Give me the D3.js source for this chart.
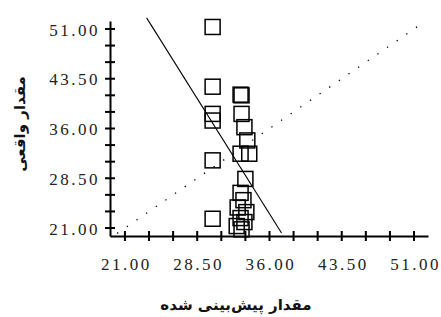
<!DOCTYPE html>
<html>
<head>
<meta charset="utf-8">
<script src="https://cdn.jsdelivr.net/npm/d3@7"></script>
<style>
  body { margin: 0; background: #fff; }
  .eje text { font-family: "Liberation Serif", serif; font-size: 17px; letter-spacing: 2.5px; fill: #222; }
  .titulo { font-family: "DejaVu Sans", sans-serif; font-weight: bold; font-size: 15px; fill: #111; }
</style>
</head>
<body>
<div id="graf"></div>
<script>
// datos: valor pronosticado (x) y valor real (y)
pronosticado = [30.1, 30.1, 30.1, 30.1, 30.1, 30.1,
                33.0, 33.1, 33.1, 33.4, 33.7, 33.0, 33.9, 33.5,
                33.0, 33.3, 32.7, 33.6, 33.0, 33.4, 32.6, 33.1]
real = [51.3, 42.3, 38.2, 37.2, 31.2, 22.4,
        41.1, 41.0, 38.2, 36.2, 34.2, 32.2, 32.2, 28.4,
        26.3, 25.2, 24.1, 23.4, 22.5, 21.9, 21.3, 20.8]

// linea de regresion (extremos) y linea identidad
regresionX = [23.25, 37.25]
regresionY = [52.67, 20.25]
identidad = [20.2, 52.2]

// ticks
marcas = [21, 23.5, 26, 28.5, 31, 33.5, 36, 38.5, 41, 43.5, 46, 48.5, 51]
etiquetas = [21, 28.5, 36, 43.5, 51]

tituloX = 'مقدار پیش‌بینی شده'
tituloY = 'مقدار واقعی'

ancho_total = 441
alto_total = 317

svg = d3.select('#graf').append('svg')
        .attr('width', ancho_total)
        .attr('height', alto_total)

xs = d3.scaleLinear().domain([19.45, 52.45]).range([110, 428])
ys = d3.scaleLinear().domain([19.8, 52.2]).range([236, 21])

x0 = xs.range()[0]
y0 = ys.range()[0]

// ejes con etiquetas
xAxisCall = d3.axisBottom(xs).tickValues(etiquetas).tickFormat(d => d.toFixed(2)).tickSize(0).tickSizeOuter(0)
xAxisGroup = svg.append('g')
   .attr('class', 'eje')
   .attr('transform', `translate(0, ${y0})`)
   .call(xAxisCall)
xAxisGroup.selectAll('.tick text').attr('y', 34).attr('dy', 0).attr('dx', 1)
xAxisGroup.select('.domain').style('stroke', '#000').style('stroke-width', '2px')

yAxisCall = d3.axisLeft(ys).tickValues(etiquetas).tickFormat(d => d.toFixed(2)).tickSize(0).tickSizeOuter(0).tickPadding(10)
yAxisGroup = svg.append('g')
   .attr('class', 'eje')
   .attr('transform', `translate(${x0}, 0)`)
   .call(yAxisCall)
yAxisGroup.selectAll('.tick text').attr('dy', '0.36em')
yAxisGroup.select('.domain').style('stroke', '#000').style('stroke-width', '2px')

// marcas de los ejes (cruzan el eje), dibujadas encima
gm = svg.append('g').attr('class', 'marcas')
marcas.forEach(d => {
  gm.append('rect')
    .attr('x', xs(d) - 1).attr('y', y0 - 5)
    .attr('width', 2).attr('height', 10)
    .attr('fill', '#000')
  gm.append('rect')
    .attr('x', x0 - 5).attr('y', ys(d) - 1)
    .attr('width', 10).attr('height', 2)
    .attr('fill', '#000')
})

// linea identidad punteada
svg.append('line')
   .attr('x1', xs(identidad[0])).attr('y1', ys(identidad[0]))
   .attr('x2', xs(identidad[1])).attr('y2', ys(identidad[1]))
   .attr('stroke', '#000')
   .attr('stroke-width', 1.3)
   .attr('stroke-dasharray', '1.3 10.4')

// linea de regresion
svg.append('line')
   .attr('x1', xs(regresionX[0])).attr('y1', ys(regresionY[0]))
   .attr('x2', xs(regresionX[1])).attr('y2', ys(regresionY[1]))
   .attr('stroke', '#000')
   .attr('stroke-width', 1.1)

// cuadros
lado = 15
svg.append('g').selectAll('rect')
   .data(pronosticado.map((d, i) => ({ px: d, py: real[i] })))
   .enter()
   .append('rect')
     .attr('x', d => xs(d.px) - lado / 2)
     .attr('y', d => ys(d.py) - lado / 2)
     .attr('width', lado)
     .attr('height', lado)
     .attr('fill', 'none')
     .attr('stroke', '#000')
     .attr('stroke-width', 1.5)

// titulos
svg.append('text')
   .attr('class', 'titulo')
   .attr('x', 236)
   .attr('y', 310)
   .attr('text-anchor', 'middle')
   .text(tituloX)

svg.append('text')
   .attr('class', 'titulo')
   .attr('transform', 'translate(25, 124) rotate(-90)')
   .attr('text-anchor', 'middle')
   .text(tituloY)
</script>
</body>
</html>
